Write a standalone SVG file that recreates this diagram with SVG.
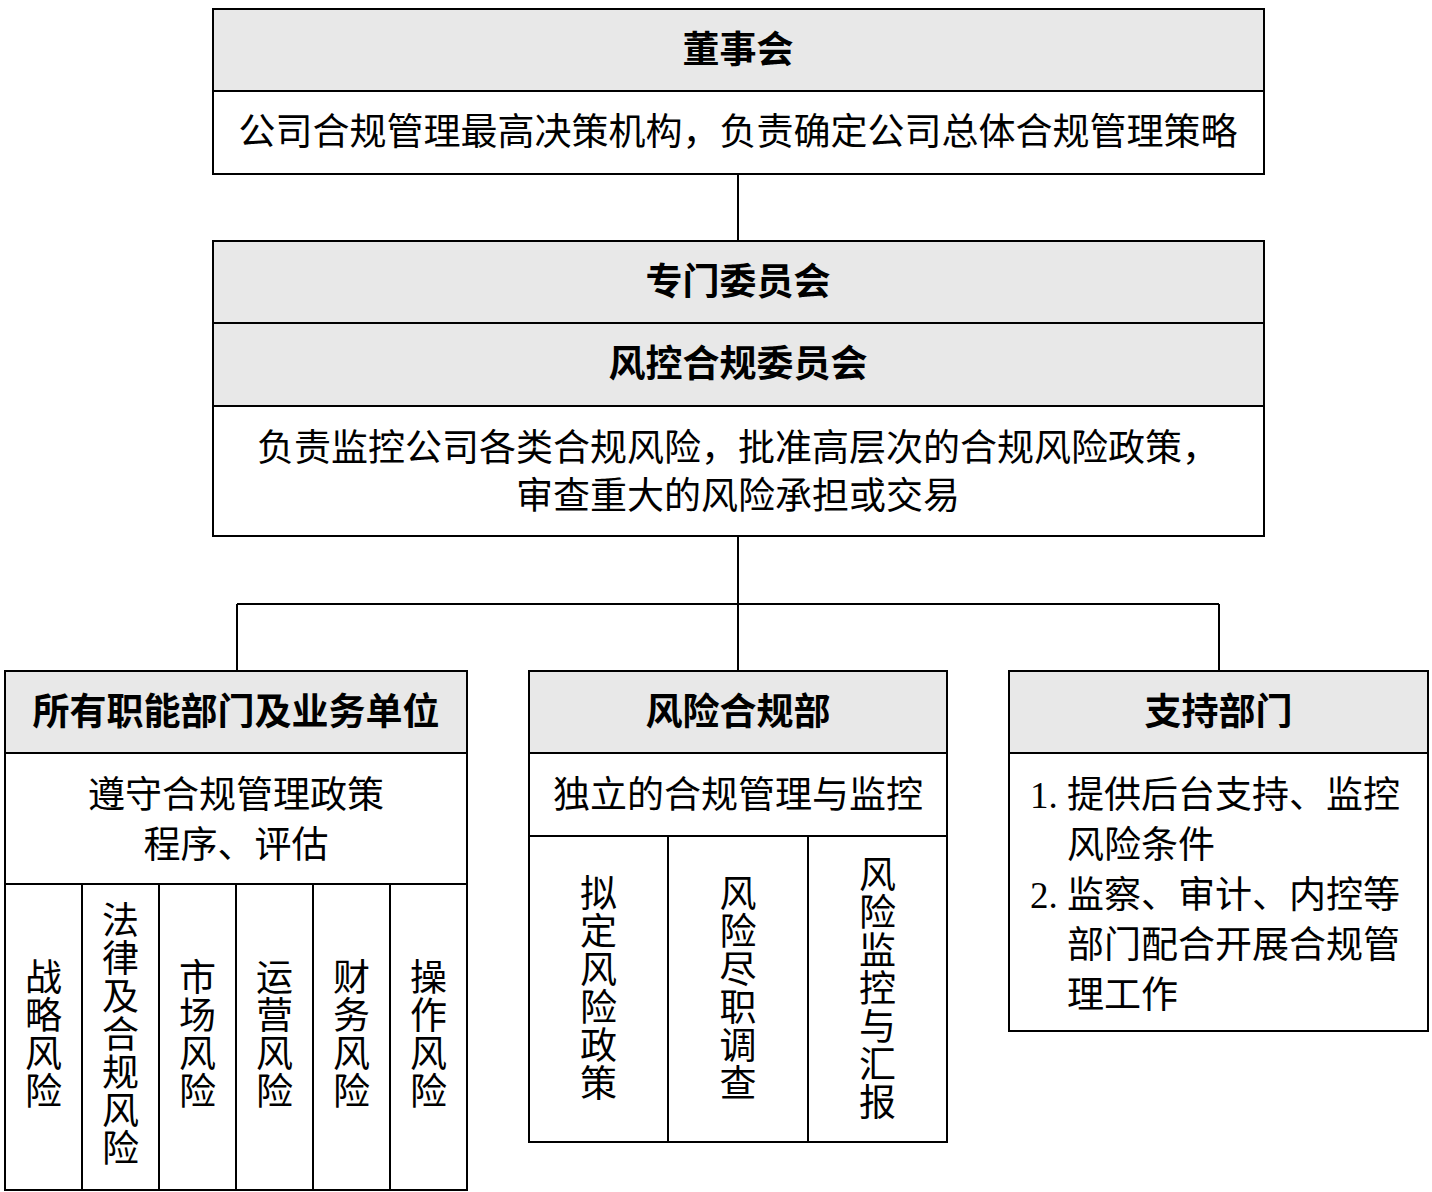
<svg xmlns="http://www.w3.org/2000/svg" width="1432" height="1192" viewBox="0 0 1432 1192">
<style>
.box{fill:#ffffff;stroke:#000;stroke-width:2}
.hdr{fill:#e8e8e8;stroke:#000;stroke-width:2}
.ln{stroke:#000;stroke-width:2;fill:none}
.t{font-family:"Noto Sans CJK SC","Noto Sans",sans-serif;font-weight:bold;font-size:37px;text-anchor:middle;fill:#000}
.b{font-family:"Liberation Serif","Noto Sans CJK SC",serif;font-size:37px;text-anchor:middle;fill:#000}
.bl{font-family:"Liberation Serif","Noto Sans CJK SC",serif;font-size:37px;text-anchor:start;fill:#000}
</style>
<rect width="1432" height="1192" fill="#fff"/>
<g id="connectors">
<path class="ln" d="M738 174V241"/>
<path class="ln" d="M738 536V671M237 604H1219M237 604V671M1219 604V671"/>
</g>
<g id="board">
<rect class="box" x="213" y="9" width="1051" height="165"/>
<rect class="hdr" x="213" y="9" width="1051" height="82"/>
<text class="t" x="738" y="63">董事会</text>
<text class="b" x="738" y="145">公司合规管理最高决策机构，负责确定公司总体合规管理策略</text>
</g>
<g id="committee">
<rect class="box" x="213" y="241" width="1051" height="295"/>
<rect class="hdr" x="213" y="241" width="1051" height="82"/>
<rect class="hdr" x="213" y="323" width="1051" height="83"/>
<text class="t" x="738" y="295">专门委员会</text>
<text class="t" x="738" y="377">风控合规委员会</text>
<text class="b" x="738" y="461">负责监控公司各类合规风险，批准高层次的合规风险政策，</text>
<text class="b" x="738" y="509">审查重大的风险承担或交易</text>
</g>
<g id="units">
<rect class="box" x="5" y="671" width="462" height="519"/>
<rect class="hdr" x="5" y="671" width="462" height="82"/>
<path class="ln" d="M5 884H467M82 884V1190M159 884V1190M236 884V1190M313 884V1190M390 884V1190"/>
<text class="t" x="236" y="725">所有职能部门及业务单位</text>
<text class="b" x="236" y="808">遵守合规管理政策</text>
<text class="b" x="236" y="858">程序、评估</text>
<text class="b"><tspan x="43.5" y="991">战</tspan><tspan x="43.5" y="1029">略</tspan><tspan x="43.5" y="1067">风</tspan><tspan x="43.5" y="1105">险</tspan></text>
<text class="b"><tspan x="120.5" y="934">法</tspan><tspan x="120.5" y="972">律</tspan><tspan x="120.5" y="1010">及</tspan><tspan x="120.5" y="1048">合</tspan><tspan x="120.5" y="1086">规</tspan><tspan x="120.5" y="1124">风</tspan><tspan x="120.5" y="1162">险</tspan></text>
<text class="b"><tspan x="197.5" y="991">市</tspan><tspan x="197.5" y="1029">场</tspan><tspan x="197.5" y="1067">风</tspan><tspan x="197.5" y="1105">险</tspan></text>
<text class="b"><tspan x="274.5" y="991">运</tspan><tspan x="274.5" y="1029">营</tspan><tspan x="274.5" y="1067">风</tspan><tspan x="274.5" y="1105">险</tspan></text>
<text class="b"><tspan x="351.5" y="991">财</tspan><tspan x="351.5" y="1029">务</tspan><tspan x="351.5" y="1067">风</tspan><tspan x="351.5" y="1105">险</tspan></text>
<text class="b"><tspan x="428.5" y="991">操</tspan><tspan x="428.5" y="1029">作</tspan><tspan x="428.5" y="1067">风</tspan><tspan x="428.5" y="1105">险</tspan></text>
</g>
<g id="riskdept">
<rect class="box" x="529" y="671" width="418" height="471"/>
<rect class="hdr" x="529" y="671" width="418" height="82"/>
<path class="ln" d="M529 836H947M668 836V1142M808 836V1142"/>
<text class="t" x="738" y="725">风险合规部</text>
<text class="b" x="738" y="808">独立的合规管理与监控</text>
<text class="b"><tspan x="598.5" y="907">拟</tspan><tspan x="598.5" y="945">定</tspan><tspan x="598.5" y="983">风</tspan><tspan x="598.5" y="1021">险</tspan><tspan x="598.5" y="1059">政</tspan><tspan x="598.5" y="1097">策</tspan></text>
<text class="b"><tspan x="738" y="907">风</tspan><tspan x="738" y="945">险</tspan><tspan x="738" y="983">尽</tspan><tspan x="738" y="1021">职</tspan><tspan x="738" y="1059">调</tspan><tspan x="738" y="1097">查</tspan></text>
<text class="b"><tspan x="877.5" y="888">风</tspan><tspan x="877.5" y="926">险</tspan><tspan x="877.5" y="964">监</tspan><tspan x="877.5" y="1002">控</tspan><tspan x="877.5" y="1040">与</tspan><tspan x="877.5" y="1078">汇</tspan><tspan x="877.5" y="1116">报</tspan></text>
</g>
<g id="support">
<rect class="box" x="1009" y="671" width="419" height="360"/>
<rect class="hdr" x="1009" y="671" width="419" height="82"/>
<text class="t" x="1218.5" y="725">支持部门</text>
<text class="bl" x="1030" y="808">1. 提供后台支持、监控</text>
<text class="bl" x="1067" y="858">风险条件</text>
<text class="bl" x="1030" y="908">2. 监察、审计、内控等</text>
<text class="bl" x="1067" y="958">部门配合开展合规管</text>
<text class="bl" x="1067" y="1008">理工作</text>
</g>
</svg>
